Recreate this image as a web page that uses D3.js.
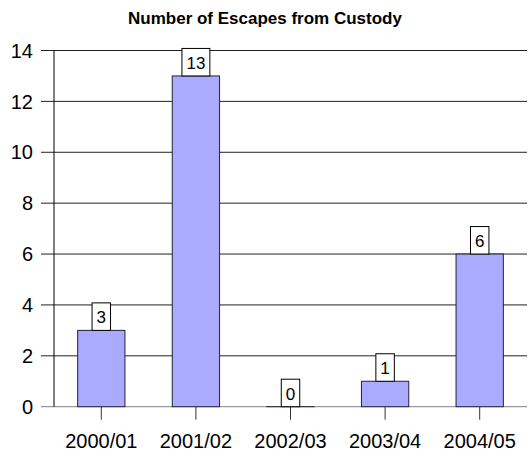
<!DOCTYPE html>
<html>
<head>
<meta charset="utf-8">
<script src="https://cdn.jsdelivr.net/npm/d3@7"></script>
<style>
  body { margin: 0; background: #fff; }
  text { font-family: "Liberation Sans", Arial, sans-serif; }
</style>
</head>
<body>
<div id="chart"></div>
<script>
const years = ["2000/01", "2001/02", "2002/03", "2003/04", "2004/05"];
const escapes = [3, 13, 0, 1, 6];
const yTicks = [0, 2, 4, 6, 8, 10, 12, 14];

const margin = { top: 50.5, right: 2, bottom: 49.3, left: 54 },
      width = 529 - margin.left - margin.right,
      height = 456 - margin.top - margin.bottom;

const svg = d3.select("#chart").append("svg")
    .attr("width", 529)
    .attr("height", 456)
  .append("g")
    .attr("transform", "translate(" + margin.left + "," + margin.top + ")");

const x = d3.scaleBand()
    .range([0, width])
    .paddingInner(0.5)
    .paddingOuter(0.25)
    .domain(years);

const y = d3.scaleLinear()
    .range([height, 0])
    .domain([0, 14]);

// gridlines
svg.selectAll(".grid")
  .data(yTicks)
  .enter().append("line")
    .attr("class", "grid")
    .attr("x1", -13)
    .attr("x2", width)
    .attr("y1", d => y(d))
    .attr("y2", d => y(d))
    .attr("stroke", d => d === 0 ? "#808080" : "#222")
    .attr("stroke-width", 1);

// y axis
svg.append("line")
    .attr("x1", 0).attr("x2", 0)
    .attr("y1", 0).attr("y2", height)
    .attr("stroke", "#000");

svg.selectAll(".ylabel")
  .data(yTicks)
  .enter().append("text")
    .attr("x", -21)
    .attr("y", d => y(d))
    .attr("dy", "0.36em")
    .style("text-anchor", "end")
    .style("font-size", "20px")
    .text(d => d);

// bars (zero bars still get their outline drawn)
svg.selectAll(".bar")
  .data(escapes)
  .enter().append("rect")
    .attr("class", "bar")
    .attr("x", (d, i) => x(years[i]))
    .attr("width", x.bandwidth())
    .attr("y", d => y(d))
    .attr("height", d => Math.max(height - y(d), 0.01))
    .attr("fill", "#aaaaff")
    .attr("stroke", "#22223a")
    .attr("stroke-width", 1);

// x ticks and labels
svg.selectAll(".xtick")
  .data(years)
  .enter().append("line")
    .attr("x1", d => x(d) + x.bandwidth() / 2)
    .attr("x2", d => x(d) + x.bandwidth() / 2)
    .attr("y1", height)
    .attr("y2", height + 13)
    .attr("stroke", "#333");

svg.selectAll(".xlabel")
  .data(years)
  .enter().append("text")
    .attr("x", d => x(d) + x.bandwidth() / 2)
    .attr("y", height + 41)
    .style("text-anchor", "middle")
    .style("font-size", "20px")
    .text(d => d);

// value labels
const labels = svg.selectAll(".vlabel")
  .data(escapes)
  .enter().append("g")
    .attr("transform", (d, i) => "translate(" + (x(years[i]) + x.bandwidth() / 2) + "," + y(d) + ")");

labels.append("text")
    .attr("y", -7)
    .style("text-anchor", "middle")
    .style("font-size", "17px")
    .text(d => d)
    .each(function() {
      const w = this.getComputedTextLength() + 9;
      d3.select(this.parentNode).insert("rect", "text")
        .attr("x", -w / 2)
        .attr("y", -27.5)
        .attr("width", w)
        .attr("height", 27.5)
        .attr("fill", "#fff")
        .attr("stroke", "#000");
    });

// title
d3.select("svg").append("text")
    .attr("x", 265)
    .attr("y", 23.5)
    .style("text-anchor", "middle")
    .style("font-size", "17px")
    .style("font-weight", "bold")
    .text("Number of Escapes from Custody");
</script>
</body>
</html>
